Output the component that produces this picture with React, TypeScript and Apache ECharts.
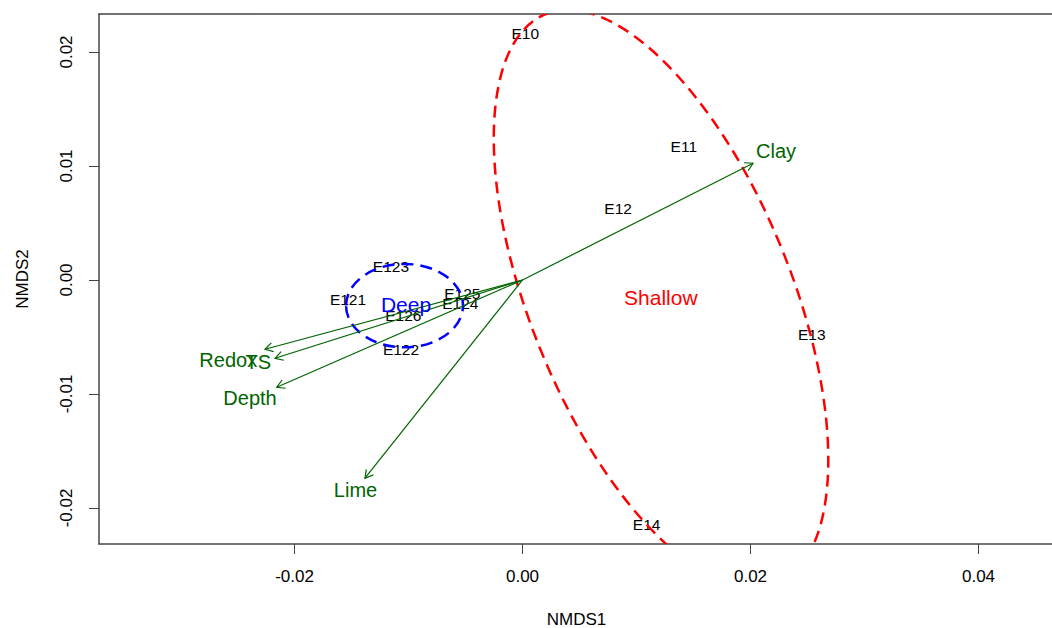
import React, { useEffect, useRef } from "react";
import * as echarts from "echarts";

// ---- data ----
const siteNames = ["E10", "E11", "E12", "E13", "E14", "E121", "E122", "E123", "E124", "E125", "E126"];
const siteX = [0.00024, 0.01415, 0.00839, 0.02537, 0.01089, -0.01531, -0.01066, -0.01154, -0.00546, -0.00528, -0.01046];
const siteY = [0.02164, 0.01169, 0.00629, -0.00474, -0.02149, -0.00175, -0.00614, 0.00114, -0.00204, -0.00117, -0.00316];

const envNames = ["Clay", "Redox", "TS", "Depth", "Lime"];
const envTipX = [0.02022, -0.02259, -0.02171, -0.02156, -0.01382];
const envTipY = [0.01024, -0.00608, -0.00687, -0.00941, -0.01739];
const envLabelX = [0.02224, -0.02581, -0.02318, -0.0239, -0.01465];
const envLabelY = [0.01128, -0.00702, -0.00717, -0.01038, -0.01842];

const groupNames = ["Shallow", "Deep"];
const groupColors = ["#FF0000", "#0000FF"];
const groupLabelX = [0.01213, -0.01022];
const groupLabelY = [-0.00152, -0.00219];
const ellipseCX = [0.01215, -0.01035];
const ellipseCY = [-0.00167, -0.00225];
const ellipseA = [0.02696, 0.00513];
const ellipseB = [0.01147, 0.00366];
const ellipseAngleDeg = [-67.95, 0];

const xTicks = [-0.02, 0, 0.02, 0.04];
const yTicks = [-0.02, -0.01, 0, 0.01, 0.02];

const FONT = "Liberation Sans";
const GREEN = "#006400";
const AXIS_COLOR = "#444";

export default function App() {
  const ref = useRef<HTMLDivElement>(null);

  useEffect(() => {
    if (!ref.current) return;
    const chart = echarts.init(ref.current, undefined, { renderer: "svg" });

    const axisLineStyle = { color: AXIS_COLOR, width: 1.5 };
    const hiddenItem = { color: "rgba(0,0,0,0)", opacity: 1 };

    const option: any = {
      animation: false,
      backgroundColor: "#ffffff",
      grid: {
        left: 99,
        right: -2,
        top: 14,
        bottom: 84,
        show: false,
        containLabel: false,
        outerBoundsMode: "none",
      },
      xAxis: [
        {
          type: "value",
          min: -0.03715,
          max: 0.04662,
          position: "bottom",
          name: "NMDS1",
          nameLocation: "middle",
          nameGap: 67,
          nameTextStyle: { fontFamily: FONT, fontSize: 17, color: "#000" },
          axisLine: { show: true, onZero: false, lineStyle: axisLineStyle },
          axisTick: { show: true, customValues: xTicks, length: 10, lineStyle: { color: AXIS_COLOR, width: 1 } },
          axisLabel: {
            show: true,
            customValues: xTicks,
            margin: 24,
            fontFamily: FONT,
            fontSize: 17,
            color: "#000",
            formatter: (v: number) => v.toFixed(2),
          },
          splitLine: { show: false },
        },
        {
          type: "value",
          min: -0.03715,
          max: 0.04662,
          position: "top",
          axisLine: { show: true, onZero: false, lineStyle: axisLineStyle },
          axisTick: { show: false },
          axisLabel: { show: false },
          splitLine: { show: false },
        },
      ],
      yAxis: {
        type: "value",
        min: -0.02316,
        max: 0.02333,
        name: "NMDS2",
        nameLocation: "middle",
        nameGap: 68,
        nameTextStyle: { fontFamily: FONT, fontSize: 17, color: "#000" },
        axisLine: { show: true, onZero: false, lineStyle: axisLineStyle },
        axisTick: { show: true, customValues: yTicks, length: 10, lineStyle: { color: AXIS_COLOR, width: 1 } },
        axisLabel: {
          show: true,
          customValues: yTicks,
          rotate: 90,
          margin: 24,
          fontFamily: FONT,
          fontSize: 17,
          color: "#000",
          formatter: (v: number) => v.toFixed(2),
        },
        splitLine: { show: false },
      },
      series: [
        {
          type: "scatter",
          name: "sites",
          symbolSize: 1,
          itemStyle: hiddenItem,
          data: siteNames.map((n, i) => ({ name: n, value: [siteX[i], siteY[i]] })),
          label: {
            show: true,
            position: "inside",
            formatter: "{b}",
            fontFamily: FONT,
            fontSize: 15.5,
            color: "#000",
          },
          z: 2,
        },
        {
          type: "custom",
          name: "ellipses",
          clip: true,
          encode: { x: 0, y: 1 },
          data: groupNames.map((n, i) => [ellipseCX[i], ellipseCY[i], ellipseA[i], ellipseB[i], ellipseAngleDeg[i], i]),
          renderItem: (params: any, api: any) => {
            const cx = api.value(0);
            const cy = api.value(1);
            const c = api.coord([cx, cy]);
            const ra = Math.abs(api.coord([cx + api.value(2), cy])[0] - c[0]);
            const rb = Math.abs(api.coord([cx, cy + api.value(3)])[1] - c[1]);
            const idx = api.value(5);
            return {
              type: "ellipse",
              x: c[0],
              y: c[1],
              rotation: (api.value(4) * Math.PI) / 180,
              shape: { cx: 0, cy: 0, rx: ra, ry: rb },
              style: {
                fill: "none",
                stroke: groupColors[idx],
                lineWidth: 2.5,
                lineDash: [12, 7],
              },
            };
          },
          z: 3,
        },
        {
          type: "custom",
          name: "arrows",
          encode: { x: 0, y: 1 },
          data: envNames.map((n, i) => [envTipX[i], envTipY[i]]),
          renderItem: (params: any, api: any) => {
            const o = api.coord([0, 0]);
            const t = api.coord([api.value(0), api.value(1)]);
            const ang = Math.atan2(t[1] - o[1], t[0] - o[0]);
            const L = 9;
            const phi = Math.PI / 6;
            const p1 = [t[0] - L * Math.cos(ang - phi), t[1] - L * Math.sin(ang - phi)];
            const p2 = [t[0] - L * Math.cos(ang + phi), t[1] - L * Math.sin(ang + phi)];
            return {
              type: "group",
              children: [
                {
                  type: "line",
                  shape: { x1: o[0], y1: o[1], x2: t[0], y2: t[1] },
                  style: { stroke: GREEN, lineWidth: 1.2 },
                },
                {
                  type: "polyline",
                  shape: { points: [p1, t, p2] },
                  style: { stroke: GREEN, lineWidth: 1.2, fill: "none" },
                },
              ],
            };
          },
          z: 4,
        },
        {
          type: "scatter",
          name: "envLabels",
          symbolSize: 1,
          itemStyle: hiddenItem,
          data: envNames.map((n, i) => ({ name: n, value: [envLabelX[i], envLabelY[i]] })),
          label: {
            show: true,
            position: "inside",
            formatter: "{b}",
            fontFamily: FONT,
            fontSize: 20,
            color: GREEN,
          },
          z: 5,
        },
        {
          type: "scatter",
          name: "groupLabels",
          symbolSize: 1,
          itemStyle: hiddenItem,
          data: groupNames.map((n, i) => ({
            name: n,
            value: [groupLabelX[i], groupLabelY[i]],
            label: { color: groupColors[i] },
          })),
          label: {
            show: true,
            position: "inside",
            formatter: "{b}",
            fontFamily: FONT,
            fontSize: 21,
          },
          z: 5,
        },
      ],
    };

    chart.setOption(option);
    return () => {
      chart.dispose();
    };
  }, []);

  return (
    <div
      ref={ref}
      style={{ position: "fixed", left: 0, top: 0, width: 1052, height: 628, background: "#fff" }}
    />
  );
}
